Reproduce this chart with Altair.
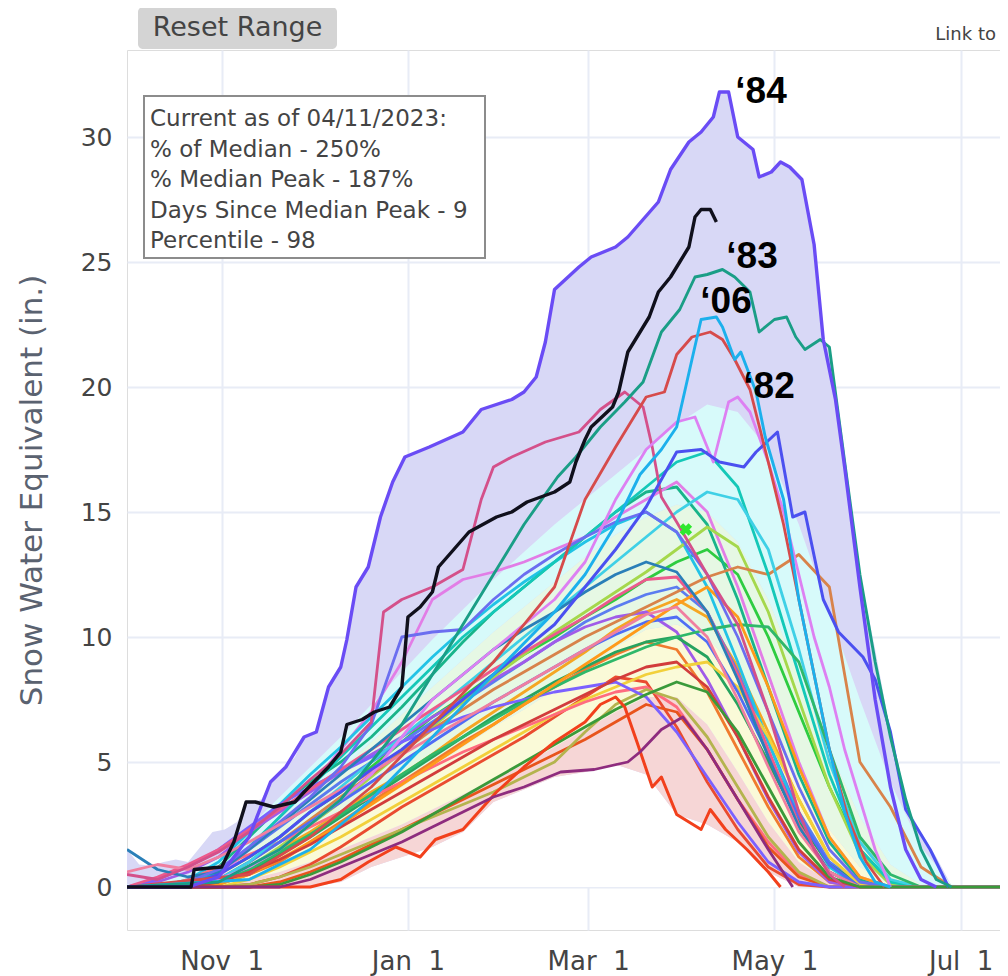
import altair as alt
import pandas as pd

START = pd.Timestamp("2022-10-01")

# ---------------- data (days after Oct 1, SWE inches) ----------------
GRID_DAYS = list(range(0, 300, 10))

MIN_V = [0,0,0,0,0,0,0,0.2,0.8,1.2, 1.6,2.2,3.4,3.9,4.4,4.6,4.9,4.5,2.9,2.5, 1.8,0.6,0,0,0,0,0,0,0,0]
P10 = [0,0,0,0.05,0.3,0.6,1.0,1.5,2.0,2.5, 3.1,3.7,4.3,4.9,5.6,6.3,7.0,7.6,7.6,6.5, 4.6,2.6,1.0,0.2,0,0,0,0,0,0]
P30 = [0,0,0.05,0.2,0.7,1.3,1.9,2.6,3.3,4.0, 4.8,5.6,6.4,7.1,7.9,8.7,9.6,10.3,10.5,10.0, 8.6,6.5,4.3,2.3,0.8,0.1,0,0,0,0]
P70 = [0,0.05,0.2,0.7,1.7,2.7,3.7,4.7,5.8,6.9, 8.0,9.1,10.2,11.2,12.2,13.2,14.1,14.8,15.3,15.0, 13.8,11.5,8.5,5.5,2.8,0.9,0.1,0,0,0]
P90 = [0.1,0.2,0.5,1.2,2.4,3.6,4.8,6.0,7.3,8.6, 9.9,11.1,12.3,13.4,14.5,15.5,16.5,17.5,18.5,19.3, 19.0,17.5,14.5,11.0,7.5,4.2,1.6,0.1,0,0]

ENV_DAYS = [0,4,8,12,16,20,24,28,32,36, 40,44,47,52,55,58,62,66,70,72, 75,79,83,87,91,99,110,116,126,130,
            134,137,140,148,152,160,164,169,174,178, 184,188,192,194,197,200,205,207,211,214,
            217,221,225,228,230,235,240,245,250,255, 260,265,270,274]
ENV_VALS = [1.5,0.9,0.85,1.0,1.1,1.0,1.6,2.2,2.3,2.6, 3.4,3.5,4.2,4.8,5.2,6.0,6.2,8.0,8.8,9.9,
            12.0,12.8,14.8,16.2,17.2,17.6,18.2,19.1,19.5,19.8, 20.4,21.8,23.9,24.8,25.2,25.6,26.0,26.7,27.4,28.7,
            29.8,30.2,30.8,31.8,31.8,30.0,29.5,28.4,28.6,29.0, 28.8,28.3,25.7,21.9,21.6,17.5,12.5,9.5,6.2,3.3,
            2.2,1.2,0.05,0]

BG_NAMES = ["B01","B02","B03","B04","B05","B06","B07","B08","B09","B10","B11","B12","B13","B14",
            "B15","B16","B17","B18","B19","B20","B21","B22","B23","B24","B25","B26","B27","B28"]
BG_COLORS = ["#f5a623","#2ecc40","#19b48a","#ea4b30","#f07b2e","#5b7cf0","#a05ce8","#e27de6","#22c3e6",
             "#a5d84c","#d8834a","#27a35f","#f2d03b","#ff6b7f","#4f6df5","#14c8b8","#e8541c","#b4b44e",
             "#7b61ff","#3fd0e6","#ec5a8c","#2fb86a","#ff9a1a","#2a7fb8","#d23c3c","#6b6ef0","#f07fa0","#3a9a3a"]
B01 = [0,0,0,0.2,0.8,1.5,2.2,3.0,3.8,4.5, 5.3,6.2,7.0,7.8,8.6,9.4,10.3,11.0,11.5,10.8, 8.8,6.2,3.5,1.2,0.1,0,0,0,0,0]
B02 = [0,0,0.1,0.5,1.2,2.0,3.0,3.8,4.8,5.8, 6.8,7.6,8.5,9.3,10.0,10.8,11.5,12.3,13.0,13.5, 12.5,10.0,7.0,4.0,1.5,0.2,0,0,0,0]
B03 = [0,0,0.2,0.8,2.0,3.2,4.2,5.0,6.0,7.2, 8.5,9.8,11.0,12.0,13.0,14.0,15.0,15.8,16.0,14.5, 11.5,8.0,4.5,1.8,0.3,0,0,0,0,0]
B04 = [0,0,0,0,0.1,0.4,0.9,1.6,2.4,3.2, 3.9,4.6,5.3,6.0,6.8,7.6,8.4,8.2,6.4,4.2, 2.3,0.8,0.1,0,0,0,0,0,0,0]
B05 = [0,0,0,0.1,0.5,1.0,1.8,2.6,3.4,4.2, 5.0,5.8,6.5,7.3,8.0,8.7,9.3,9.8,9.5,7.8, 5.5,3.2,1.2,0.2,0,0,0,0,0,0]
B06 = [0,0,0.1,0.6,1.5,2.4,3.3,4.2,5.0,5.8, 6.6,7.4,8.2,9.0,9.8,10.6,11.2,11.7,12.0,11.0, 8.6,5.8,3.0,1.0,0.1,0,0,0,0,0]
B07 = [0,0.2,0.6,1.2,2.2,3.0,3.8,4.6,5.3,6.0, 6.8,7.5,8.3,9.0,9.8,10.4,10.8,11.0,10.2,8.3, 6.0,3.5,1.4,0.2,0,0,0,0,0,0]
B08 = [0,0,0,0.4,1.5,2.8,4.0,5.5,7.0,9.0, 11.5,12.3,12.6,13.0,13.5,14.0,14.8,15.5,16.2,15.0, 12.0,8.5,5.0,2.0,0.4,0,0,0,0,0]
B09 = [0,0,0.3,1.0,2.2,3.3,4.5,5.6,6.8,8.0, 9.2,10.3,11.3,12.2,13.0,13.8,14.5,15.0,14.2,12.0, 9.0,5.8,2.8,0.8,0,0,0,0,0,0]
B10 = [0,0,0,0.2,0.8,1.6,2.5,3.4,4.4,5.4, 6.4,7.4,8.4,9.3,10.2,11.0,11.8,12.6,13.5,14.4, 13.6,11.0,7.5,4.0,1.3,0.1,0,0,0,0]
B11 = [0,0,0,0.3,1.0,1.8,2.7,3.6,4.5,5.4, 6.3,7.1,7.9,8.6,9.3,10.0,10.6,11.2,11.8,12.4, 12.8,12.5,13.3,12.0,5.0,3.2,0.8,0,0,0]
B12 = [0,0,0,0.1,0.6,1.3,2.0,2.8,3.6,4.4, 5.2,6.0,6.8,7.5,8.2,8.8,9.4,9.8,10.0,9.2, 7.3,5.0,2.6,0.9,0.1,0,0,0,0,0]
B13 = [0,0,0,0,0.3,0.8,1.4,2.0,2.7,3.4, 4.1,4.8,5.5,6.2,6.9,7.5,8.0,8.5,8.8,9.0, 8.0,6.0,3.5,1.2,0.1,0,0,0,0,0]
B14 = [0,0,0.3,0.8,1.3,1.8,2.4,3.0,3.6,4.2, 4.8,5.4,5.9,6.4,6.9,7.4,7.8,8.0,7.2,5.5, 3.5,1.8,0.5,0,0,0,0,0,0,0]
B15 = [0,0,0,0.3,1.0,1.8,2.6,3.4,4.2,5.0, 5.8,6.6,7.4,8.1,8.8,9.5,10.1,10.6,10.8,9.8, 7.8,5.3,2.8,0.9,0,0,0,0,0,0]
B16 = [0,0,0.1,0.6,1.6,2.8,4.0,5.2,6.4,7.6, 8.8,10.0,11.0,12.0,13.0,14.0,15.0,16.0,17.0,17.4, 16.0,12.5,8.5,4.5,1.5,0.2,0,0,0,0]
B17 = [0,0,0,0,0,0.2,0.6,1.1,1.7,2.3, 2.9,3.5,4.1,4.7,5.3,5.9,6.6,7.3,7.0,5.5, 3.5,1.6,0.4,0,0,0,0,0,0,0]
B18 = [0,0,0,0,0.1,0.4,0.8,1.3,1.8,2.3, 2.8,3.3,3.8,4.4,5.0,6.2,7.3,7.9,7.5,6.0, 4.0,2.0,0.6,0,0,0,0,0,0,0]
B19 = [0,0.3,0.8,1.5,2.4,3.3,4.0,4.6,5.2,5.8, 6.3,6.8,7.2,7.5,7.8,8.0,8.2,7.6,6.2,4.4, 2.6,1.0,0.2,0,0,0,0,0,0,0]
B20 = [0,0,0,0.3,1.0,2.0,3.0,4.0,5.0,6.0, 7.0,8.0,9.0,10.0,11.0,12.0,13.0,14.0,15.0,15.8, 15.5,13.5,9.5,5.0,1.8,0.3,0,0,0,0]
B21 = [0,0.4,0.9,1.5,2.3,3.1,3.9,4.7,5.5,6.3, 7.1,7.9,8.7,9.4,10.1,10.8,11.6,12.3,12.4,11.0, 8.5,5.5,2.5,0.6,0,0,0,0,0,0]
B22 = [0,0,0,0.2,0.7,1.4,2.1,2.9,3.7,4.5, 5.3,6.0,6.7,7.4,8.0,8.6,9.1,9.6,10.0,10.3, 10.5,10.4,9.0,5.5,2.0,0.5,0,0,0,0]
B23 = [0,0,0,0.1,0.5,1.1,1.8,2.5,3.3,4.1, 4.9,5.7,6.5,7.3,8.1,8.9,9.7,10.5,11.3,12.0, 10.8,8.0,4.8,2.0,0.4,0,0,0,0,0]
B24 = [1.5,0.7,0.4,0.6,1.5,2.5,3.5,4.5,5.5,6.5, 7.5,8.5,9.5,10.3,11.0,11.8,12.5,13.0,12.6,11.0, 8.3,5.2,2.4,0.6,0,0,0,0,0,0]
B25 = [0,0,0,0.2,0.6,1.1,1.7,2.4,3.1,3.8, 4.5,5.2,5.9,6.5,7.1,7.7,8.3,8.8,9.0,8.0, 6.0,3.6,1.5,0.3,0,0,0,0,0,0]
B26 = [0,0,0.2,0.7,1.6,2.6,3.6,4.8,6.5,10.0, 10.2,10.3,11.5,12.5,13.3,14.0,14.6,15.0,14.2,12.5, 10.0,7.0,4.0,1.5,0.2,0,0,0,0,0]
B27 = [0.6,0.9,0.7,1.2,1.8,2.5,3.2,3.9,4.6,5.3, 6.0,6.7,7.4,8.1,8.8,9.5,10.2,10.9,11.2,10.0, 7.5,4.8,2.2,0.6,0,0,0,0,0,0]
B28 = [0,0,0,0,0,0.1,0.5,1.0,1.6,2.2, 2.9,3.6,4.3,5.0,5.7,6.4,7.1,7.7,8.2,7.8, 6.2,4.0,1.8,0.4,0,0,0,0,0,0]
BG_VALUES = [B01,B02,B03,B04,B05,B06,B07,B08,B09,B10,B11,B12,B13,B14,
             B15,B16,B17,B18,B19,B20,B21,B22,B23,B24,B25,B26,B27,B28]

R1_DAYS = [0,60,70,79,88,96,101,110,121,130, 140,150,155,160,163,167,172,175,180,188, 191,196,203,210,214]
R1_VALS = [0,0,0.3,1.0,1.6,1.2,1.9,2.3,3.8,4.8, 5.8,6.6,7.3,7.6,7.2,5.8,4.0,4.4,2.9,2.3, 3.1,2.3,1.5,0.6,0]

LP_DAYS = [0,50,60,70,80,90,100,110,120,130, 142,153,164,168,175,182,190,200,210,218]
LP_VALS = [0,0,0.3,0.8,1.3,1.8,2.4,3.0,3.6,4.0, 4.6,4.7,5.0,5.4,6.3,6.8,5.5,3.5,1.5,0]

PK_DAYS = [0,10,20,30,40,50,60,70,80,84, 90,100,110,116,120,126,137,148,155,163, 169,172,175,180,190,200,210,215,220,225, 230,235]
PK_VALS = [0.5,0.3,0.8,1.4,2.2,3.2,4.3,5.3,6.6,11.0, 11.5,12.0,12.7,15.5,16.8,17.2,17.8,18.2,19.1,19.8,
           19.2,17.6,15.6,14.6,12.5,10.5,7.0,5.0,3.0,1.5, 0.5,0]

VI_DAYS = [0,30,40,50,60,70,80,90,100,110, 120,130,140,150,160,170,180,186,192,197, 200,204,210,215,220,225,230,235,240,245, 250]
VI_VALS = [0,0.3,0.8,1.5,2.5,3.5,4.5,6.0,7.5,8.5, 9.5,10.5,11.5,13.0,15.5,17.5,18.6,18.8,17.0,19.4,
           19.6,19.0,17.0,15.0,12.5,10.0,8.0,5.5,3.5,1.5, 0]

BL_DAYS = [0,20,30,40,50,60,70,80,90,100, 110,120,130,140,150,160,170,180,188,194,
           202,206,213,218,222,228,233,241,245,250, 255,263,269]
BL_VALS = [0,0.1,0.5,1.2,2.0,3.0,3.8,4.7,5.5,6.5, 7.5,8.5,9.5,10.5,12.0,13.5,15.2,17.4,17.5,17.0,
           16.8,17.4,18.2,14.8,15.0,11.5,10.2,9.2,8.3,6.2, 3.1,1.5,0]

Y82_DAYS = [0,40,60,80,100,120,140,150,160,170, 176,180,185,191,195,199,204,210,215,220, 225,230,236,242,248]
Y82_VALS = [0,0.5,2.0,4.0,6.5,9.0,12.0,15.5,17.6,19.6, 19.8,21.3,22.0,22.2,21.9,21.1,19.9,17.0,14.5,11.5, 8.5,5.5,2.8,1.0,0]

Y06_DAYS = [0,40,60,80,100,120,140,150,160,168, 175,180,185,188,193,195,199,201,206,209, 215,220,225,230,235,240,245,250]
Y06_VALS = [0,0.3,1.5,3.5,6.0,8.5,11.0,12.5,14.5,16.5, 17.5,18.4,21.1,22.7,22.8,22.4,21.1,21.4,19.8,18.0,
            15.5,11.5,8.5,5.5,3.0,1.2,0.2,0]

Y83_DAYS = [0,30,50,70,90,110,120,130,141,147, 155,163,169,175,181,186,190,195,199,204,
            207,212,216,219,222,227,230,235,240,245, 250,255,260,265,270]
Y83_VALS = [0,0.2,1.5,3.5,6.5,10.5,12.5,14.5,16.4,17.2, 18.4,19.4,20.2,22.2,23.1,24.4,24.5,24.7,24.4,23.8,
            22.2,22.7,22.8,22.0,21.5,21.9,21.6,17.0,12.5,9.0, 6.0,3.5,1.5,0.3,0]

Y84_DAYS = [0,20,30,40,47,52,58,62,66,70, 72,75,79,83,87,91,99,110,116,126, 130,134,137,140,148,152,160,164,169,174,
            178,184,188,192,194,197,200,205,207,211, 214,217,221,225,228,232,235,240,245,250, 255,260,265]
Y84_VALS = [0,0,0.4,2.0,4.2,4.8,6.0,6.2,8.0,8.8, 9.9,12.0,12.8,14.8,16.2,17.2,17.6,18.2,19.1,19.5,
            19.8,20.4,21.8,23.9,24.8,25.2,25.6,26.0,26.7,27.4, 28.7,29.8,30.2,30.8,31.8,31.8,30.0,29.5,28.4,28.6,
            29.0,28.8,28.3,25.7,21.9,19.5,16.8,12.0,7.5,4.0, 1.5,0.3,0]

CUR_DAYS = [0,21,22,31,35,39,42,48,55,58, 62,66,70,72,77,81,86,90,92,96, 100,102,107,112,121,126,131,140,145,147,
            150,152,159,161,164,168,171,174,178,181, 184,186,188,191,193]
CUR_VALS = [0,0,0.7,0.8,1.8,3.4,3.4,3.2,3.4,3.8, 4.3,4.8,5.4,6.5,6.7,7.0,7.2,8.0,10.8,11.2,
            11.8,12.8,13.5,14.2,14.8,15.0,15.4,15.8,16.2,17.0, 17.9,18.4,19.2,19.8,21.4,22.2,22.8,23.8,24.4,25.0,
            25.6,26.8,27.1,27.1,26.6]

MEDIAN_PEAK_DAY = [183]
MEDIAN_PEAK_VAL = [14.3]

ANNOT_LINES = ["Current as of 04/11/2023:", "% of Median - 250%", "% Median Peak - 187%",
               "Days Since Median Peak - 9", "Percentile - 98"]
YEAR_LABELS = ["\u201884", "\u201883", "\u201806", "\u201882"]
Y_TICKS = [0, 5, 10, 15, 20, 25, 30]
X_TICKS = [(2022, 11), (2023, 1), (2023, 3), (2023, 5), (2023, 7)]


def to_dates(days):
    return START + pd.to_timedelta(days, unit="D")


# ---------------- tables ----------------
bands = pd.DataFrame({"date": to_dates(GRID_DAYS), "zero": 0.0, "MIN": MIN_V,
                      "P10": P10, "P30": P30, "P70": P70, "P90": P90})
env = pd.DataFrame({"date": to_dates(ENV_DAYS), "val": ENV_VALS, "zero": 0.0})

bg_rows = []
for name, vals in zip(BG_NAMES, BG_VALUES):
    for d, v in zip(to_dates(GRID_DAYS), vals):
        bg_rows.append({"series": name, "date": d, "val": v})
bg = pd.DataFrame(bg_rows)

# ---------------- styling ----------------
FONT = "DejaVu Sans"
TXT = "#444444"
GRIDC = "#e8ecf6"
W, H = 873, 880

xscale = alt.Scale(domain=[alt.DateTime(year=2022, month=10, date=1),
                           alt.DateTime(year=2023, month=7, date=13, hours=21)], nice=False)
yscale = alt.Scale(domain=[-1.72, 33.48], nice=False, zero=False)

xaxis = alt.Axis(values=[alt.DateTime(year=y, month=m, date=1) for y, m in X_TICKS],
                 labelExpr="timeFormat(datum.value, '%b') + '\u00a0 ' + timeFormat(datum.value, '%-d')",
                 grid=True, gridColor=GRIDC, gridWidth=2, domain=False, ticks=False,
                 labelFont=FONT, labelFontSize=26, labelColor=TXT, labelPadding=18, title=None)
yaxis = alt.Axis(values=Y_TICKS, format="d", grid=True, gridColor=GRIDC, gridWidth=2,
                 domain=False, ticks=False, labelFont=FONT, labelFontSize=25, labelColor=TXT,
                 labelPadding=15, title="Snow Water Equivalent (in.)", titleFont=FONT,
                 titleFontSize=31, titleFontWeight="normal", titleColor="#5a6270",
                 titleX=-95, titleY=H / 2, titleAngle=270, titleAlign="center",
                 titleBaseline="middle")


def X():
    return alt.X("date:T", scale=xscale, axis=xaxis)


def Y(field):
    return alt.Y(f"{field}:Q", scale=yscale, axis=yaxis)


def band(lo, hi, color):
    return alt.Chart(bands).mark_area(color=color, opacity=1, clip=True).encode(
        x=X(), y=Y(hi), y2=alt.Y2(f"{lo}:Q"))


layers = []
layers.append(alt.Chart(env).mark_area(color="#d8d8f6", opacity=1, clip=True).encode(
    x=X(), y=Y("val"), y2=alt.Y2("zero:Q")))
layers.append(band("zero", "MIN", "#ffffff"))
layers.append(band("MIN", "P10", "#f6d6d6"))
layers.append(band("P10", "P30", "#fafad8"))
layers.append(band("P30", "P70", "#e6f8e4"))
layers.append(band("P70", "P90", "#d7fafa"))

layers.append(alt.Chart(bg).mark_line(strokeWidth=2.8, clip=True, strokeJoin="round").encode(
    x=X(), y=Y("val"),
    color=alt.Color("series:N", scale=alt.Scale(domain=BG_NAMES, range=BG_COLORS), legend=None)))

KEY = [
    (R1_DAYS, R1_VALS, "#f2401c", 3.0),
    (LP_DAYS, LP_VALS, "#8e2c7e", 2.8),
    (PK_DAYS, PK_VALS, "#d4508a", 2.8),
    (VI_DAYS, VI_VALS, "#dd80f2", 2.8),
    (BL_DAYS, BL_VALS, "#4b50f0", 3.0),
    (Y82_DAYS, Y82_VALS, "#d64b4b", 2.8),
    (Y06_DAYS, Y06_VALS, "#1cb0ec", 2.9),
    (Y83_DAYS, Y83_VALS, "#1a9e86", 2.9),
    (Y84_DAYS, Y84_VALS, "#6a4cf5", 3.4),
    (CUR_DAYS, CUR_VALS, "#10101c", 3.4),
]
for days, vals, col, sw in KEY:
    df = pd.DataFrame({"date": to_dates(days), "val": vals})
    layers.append(alt.Chart(df).mark_line(color=col, strokeWidth=sw, clip=True,
                                          strokeJoin="round").encode(x=X(), y=Y("val")))

mp = pd.DataFrame({"date": to_dates(MEDIAN_PEAK_DAY), "val": MEDIAN_PEAK_VAL})
layers.append(alt.Chart(mp).mark_point(shape="cross", angle=45, filled=True, color="#2ee82e",
                                       size=160, opacity=1).encode(x=X(), y=Y("val")))

one = pd.DataFrame({"t": ["\n".join(ANNOT_LINES)]})

# annotation box
layers.append(alt.Chart(one).mark_rect(fill="white", stroke="#8c8c8c", strokeWidth=2).encode(
    x=alt.value(17), x2=alt.value(358), y=alt.value(46), y2=alt.value(208)))
layers.append(alt.Chart(one).mark_text(align="left", baseline="alphabetic", font=FONT, fontSize=23,
                                       lineBreak="\n", lineHeight=30.5, color=TXT).encode(
    x=alt.value(23), y=alt.value(76), text="t:N"))

# reset range button
btn = pd.DataFrame({"t": ["Reset Range"]})
layers.append(alt.Chart(btn).mark_rect(fill="#d4d4d4", cornerRadius=5).encode(
    x=alt.value(11), x2=alt.value(210), y=alt.value(-43), y2=alt.value(-1)))
layers.append(alt.Chart(btn).mark_text(align="center", baseline="middle", font=FONT, fontSize=27,
                                       color=TXT).encode(x=alt.value(110.5), y=alt.value(-22), text="t:N"))

link = pd.DataFrame({"t": ["Link to"]})
layers.append(alt.Chart(link).mark_text(align="right", baseline="alphabetic", font=FONT, fontSize=18,
                                        color=TXT).encode(x=alt.value(869), y=alt.value(-10), text="t:N"))

# year labels
for lab, px, py in zip(YEAR_LABELS, [634, 625, 599, 642], [53, 218, 263, 348]):
    ldf = pd.DataFrame({"t": [lab]})
    layers.append(alt.Chart(ldf).mark_text(align="center", baseline="alphabetic",
                                           font="Liberation Sans", fontWeight="bold", fontSize=37,
                                           color="black").encode(
        x=alt.value(px), y=alt.value(py), text="t:N"))

chart = alt.layer(*layers).properties(
    width=W, height=H,
    padding={"left": 119, "top": 42, "right": 0, "bottom": 46},
    autosize=alt.AutoSizeParams(type="none"),
).configure_view(stroke=None).configure(background="white")

chart.save("out.html", embed_options={"renderer": "svg", "actions": False})
